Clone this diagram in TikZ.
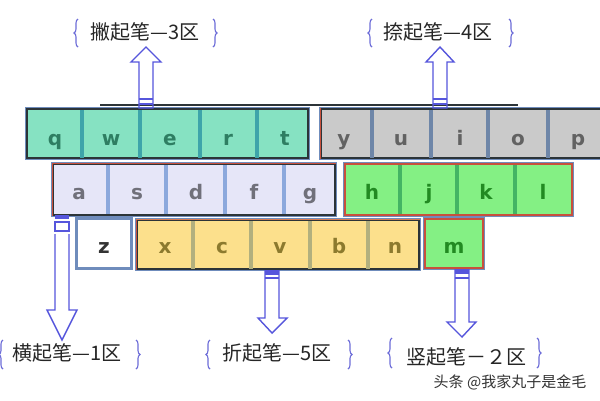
\documentclass[tikz,border=0pt]{standalone}
\usepackage{fontspec}
\newfontfamily\cjk{Noto Sans CJK SC}
\newfontfamily\keyfont{DejaVu Sans}
\usetikzlibrary{decorations.pathreplacing}
\definecolor{edgeblue}{HTML}{6F8CBC}
\definecolor{darkedge}{HTML}{2C3438}
\definecolor{rededge}{HTML}{C8503C}
\definecolor{arrblue}{HTML}{5656DC}
\definecolor{brblue}{HTML}{6C6CD8}
\definecolor{mint}{HTML}{86E2C2}
\definecolor{mintdiv}{HTML}{3EA4AA}
\definecolor{mintltr}{HTML}{2E7E62}
\definecolor{greyk}{HTML}{CACACA}
\definecolor{greydiv}{HTML}{6E86A8}
\definecolor{greyltr}{HTML}{626262}
\definecolor{lav}{HTML}{E6E6F8}
\definecolor{lavdiv}{HTML}{8CA8DC}
\definecolor{lavltr}{HTML}{70707A}
\definecolor{lgreen}{HTML}{84F084}
\definecolor{lgreendiv}{HTML}{44B464}
\definecolor{lgreenltr}{HTML}{228A22}
\definecolor{yel}{HTML}{FCE08C}
\definecolor{yeldiv}{HTML}{B2B07E}
\definecolor{yelltr}{HTML}{8C7A2E}
\begin{document}
\begin{tikzpicture}[x=1pt,y=-1pt,
  block/.style={rectangle, inner sep=0pt, draw=darkedge, line width=1.3,
     preaction={draw=edgeblue, line width=4.5}},
  divider/.style={line width=3.5},
  keyl/.style={font=\keyfont\bfseries\fontsize{20}{20}\selectfont, anchor=base, inner sep=0pt},
  lbl/.style={font=\cjk\fontsize{20}{20}\selectfont, text=black!85, inner sep=0pt},
  arr/.style={draw=arrblue, line width=1.4, line join=miter},
  brc/.style={draw=brblue, line width=1.1, decorate, decoration={brace, amplitude=4pt}}
]
\useasboundingbox (0,0) rectangle (600,400);
\fill[white] (0,0) rectangle (600,400);

% top dark line
\draw[line width=2, darkedge] (100,105) -- (518,105);

% ---- blocks ----
\node[block, fill=mint, minimum width=281, minimum height=49] (qwert) at (167.5,133.5) {};
\node[block, fill=greyk, minimum width=285, minimum height=49] (yuiop) at (463.5,133.5) {};
\node[block, fill=lav, minimum width=282, minimum height=51] (asdfg) at (194,189.5) {};
\node[block, fill=lgreen, draw=rededge, minimum width=227, minimum height=51] (hjkl) at (458.5,189.5) {};
\node[block, fill=white, draw=edgeblue, minimum width=54, minimum height=49] (zkey) at (104,243.5) {};
\node[block, fill=yel, minimum width=282, minimum height=49] (xcvbn) at (278,244.5) {};
\node[block, fill=lgreen, draw=rededge, minimum width=58, minimum height=49] (mkey) at (454,243.5) {};

% red accents
\draw[rededge, line width=1.3] (asdfg.south west) -- (asdfg.north west) -- (asdfg.north east);
\draw[rededge, line width=1.3] (yuiop.south west) -- (yuiop.north west);
\draw[rededge, line width=1.3] (xcvbn.south west) -- (xcvbn.north west);
\draw[rededge!70!yel, line width=1.3] (xcvbn.north west) -- (xcvbn.north east);

% dividers
\foreach \x in {82,140,200,257}
  \draw[divider, mintdiv] (\x,110) -- (\x,157.5);
\foreach \x in {372,431,488,548}
  \draw[divider, greydiv] (\x,110) -- (\x,157.5);
\foreach \x in {108,166,225,284}
  \draw[divider, lavdiv] (\x,165) -- (\x,214);
\foreach \x in {400,457,515}
  \draw[divider, lgreendiv] (\x,165) -- (\x,214);
\foreach \x in {193,251,310,368}
  \draw[divider, yeldiv] (\x,221) -- (\x,268.5);

% letters
\node[keyl, text=mintltr] (kq) at (55,145) {q};
\node[keyl, text=mintltr] (kw) at (111,145) {w};
\node[keyl, text=mintltr] (ke) at (170,145) {e};
\node[keyl, text=mintltr] (kr) at (228,145) {r};
\node[keyl, text=mintltr] (kt) at (285,145) {t};
\node[keyl, text=greyltr] (ky) at (344,145) {y};
\node[keyl, text=greyltr] (ku) at (401,145) {u};
\node[keyl, text=greyltr] (ki) at (460,145) {i};
\node[keyl, text=greyltr] (ko) at (518,145) {o};
\node[keyl, text=greyltr] (kp) at (578,145) {p};
\node[keyl, text=lavltr] (ka) at (79,199) {a};
\node[keyl, text=lavltr] (ks) at (137,199) {s};
\node[keyl, text=lavltr] (kd) at (196,199) {d};
\node[keyl, text=lavltr] (kf) at (254,199) {f};
\node[keyl, text=lavltr] (kg) at (310,199) {g};
\node[keyl, text=lgreenltr] (kh) at (372,199) {h};
\node[keyl, text=lgreenltr] (kj) at (429,199) {j};
\node[keyl, text=lgreenltr] (kk) at (486,199) {k};
\node[keyl, text=lgreenltr] (kl) at (543,199) {l};
\node[keyl, text=black!80] (kz) at (104,253) {z};
\node[keyl, text=yelltr] (kx) at (165,253) {x};
\node[keyl, text=yelltr] (kc) at (222,253) {c};
\node[keyl, text=yelltr] (kv) at (280,253) {v};
\node[keyl, text=yelltr] (kb) at (339,253) {b};
\node[keyl, text=yelltr] (kn) at (395,253) {n};
\node[keyl, text=lgreenltr] (km) at (454,253) {m};

% ---- arrows ----
% up arrow 3
\draw[arr] (139,108) -- (139,62) -- (131,62) -- (146,47) -- (161,62) -- (153,62) -- (153,108) -- cycle;
\draw[arr] (139,99) -- (153,99) (139,104) -- (153,104);
% up arrow 4
\draw[arr] (433,108) -- (433,62) -- (426,62) -- (440,47) -- (454,62) -- (447,62) -- (447,108) -- cycle;
\draw[arr] (433,99) -- (447,99) (433,104) -- (447,104);
% down arrow 1
\fill[arrblue] (55,215) rectangle (69,219);
\draw[arr] (55,222) rectangle (69,231);
\draw[arr] (55,234) -- (55,310) -- (47,310) -- (62,340) -- (77,310) -- (69,310) -- (69,234);
% down arrow 5
\fill[arrblue] (265,270) rectangle (279,275);
\draw[arr] (265,278) -- (279,278);
\draw[arr] (265,270) -- (265,318) -- (258,318) -- (272,333) -- (287,318) -- (279,318) -- (279,270);
% down arrow 2
\fill[arrblue] (455,269) rectangle (469,274);
\draw[arr] (455,278) -- (469,278);
\draw[arr] (455,269) -- (455,322) -- (447,322) -- (462,337) -- (476,322) -- (469,322) -- (469,269);

% ---- labels ----
\node[lbl] (l3) at (145,32) {撇起笔—3区};
\draw[brc] (78,47) -- (78,19);
\draw[brc] (213,19) -- (213,47);

\node[lbl] (l4) at (438,32) {捺起笔—4区};
\draw[brc] (372,47) -- (372,19);
\draw[brc] (509,19) -- (509,47);

\node[lbl] (l1) at (67,353) {横起笔—1区};
\draw[brc] (3,369) -- (3,340);
\draw[brc] (136,340) -- (136,369);

\node[lbl] (l5) at (277,353) {折起笔—5区};
\draw[brc] (210,369) -- (210,340);
\draw[brc] (348,340) -- (348,369);

\node[lbl] (l2) at (466,357) {竖起笔－２区};
\draw[brc] (392,368) -- (392,338);
\draw[brc] (537,338) -- (537,368);

\node[font=\cjk\fontsize{15}{15}\selectfont, text=black!80, inner sep=0pt] (wm) at (510,382) {头条 @我家丸子是金毛};
\end{tikzpicture}
\end{document}
